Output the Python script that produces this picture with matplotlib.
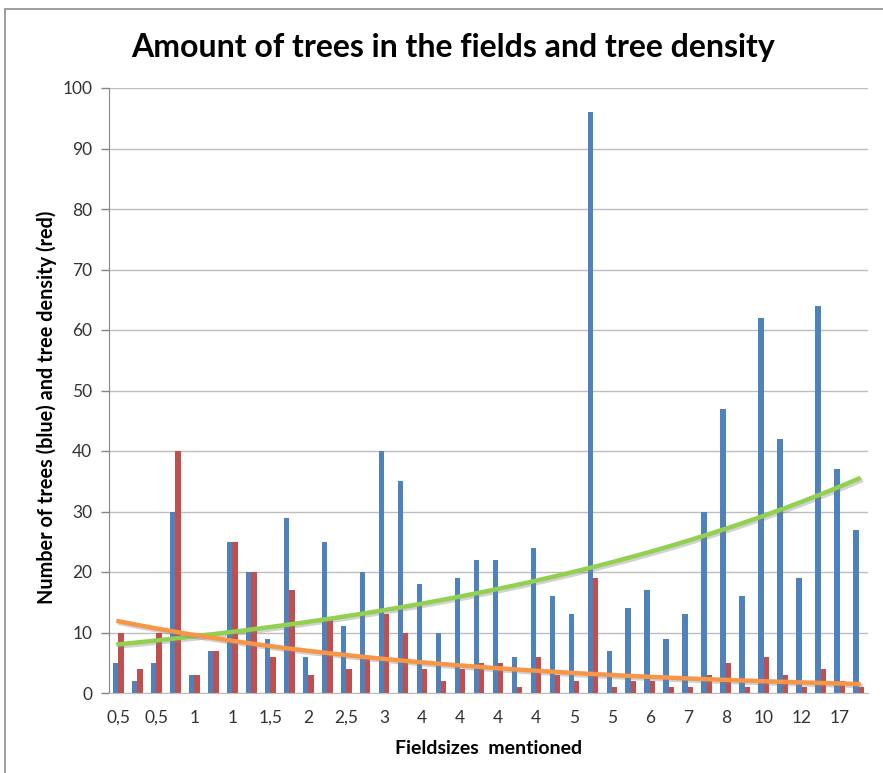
import numpy as np
import matplotlib.pyplot as plt
import matplotlib.patheffects as pe
from matplotlib.patches import Rectangle

plt.rcParams['font.family'] = ['Lato', 'DejaVu Sans']

# one category per field mentioned, label shown on every other one
field_labels = ['0,5', '0,5', '1', '1', '1,5', '2', '2,5', '3', '4', '4',
                '4', '4', '5', '5', '6', '7', '8', '10', '12', '17']
trees = [5, 2, 5, 30, 3, 7, 25, 20, 9, 29,
         6, 25, 11, 20, 40, 35, 18, 10, 19, 22,
         22, 6, 24, 16, 13, 96, 7, 14, 17, 9,
         13, 30, 47, 16, 62, 42, 19, 64, 37, 27]
density = [10, 4, 10, 40, 3, 7, 25, 20, 6, 17,
           3, 12, 4, 6, 13, 10, 4, 2, 4, 5,
           5, 1, 6, 3, 2, 19, 1, 2, 2, 1,
           1, 3, 5, 1, 6, 3, 1, 4, 2, 1]

x = np.arange(1, len(trees) + 1)


def exp_trend(values):
    # least squares on log values, like a spreadsheet exponential trendline
    b, ln_a = np.polyfit(x, np.log(values), 1)
    return np.exp(ln_a + b * x)


trend_trees = exp_trend(trees)
trend_density = exp_trend(density)

fig = plt.figure(figsize=(8.83, 7.73), dpi=100)
ax = fig.add_axes([109 / 883, 1 - 693 / 773, 759 / 883, 605 / 773])

w = 0.28
ax.bar(x - w / 2, trees, width=w, color='#4F81BD', zorder=2)
ax.bar(x + w / 2, density, width=w, color='#C0504D', zorder=2)

shadow = [pe.SimpleLineShadow(offset=(1.5, -1.5), shadow_color='gray', alpha=0.35), pe.Normal()]
ax.plot(x, trend_trees, color='#92D050', lw=3.2, zorder=3, path_effects=shadow)
ax.plot(x, trend_density, color='#F79646', lw=3.2, zorder=3, path_effects=shadow)

ax.set_xlim(0.5, len(trees) + 0.5)
ax.set_ylim(0, 100)
ax.set_yticks(range(0, 101, 10))
ax.set_xticks(x[::2])
ax.set_xticklabels(field_labels)
ax.tick_params(axis='x', length=0, pad=12, labelsize=12.5, colors='#333333')
ax.tick_params(axis='y', length=6, width=1, color='#868686', pad=6, labelsize=12.5, labelcolor='#333333')
ax.yaxis.grid(True, color='#BEBEBE', lw=1)
ax.set_axisbelow(True)
for s in ['top', 'right']:
    ax.spines[s].set_visible(False)
ax.spines['left'].set_color('#868686')
ax.spines['bottom'].set_color('#BEBEBE')

ax.set_ylabel('Number of trees (blue) and tree density (red)', fontsize=14.3, fontweight='bold',
              va='center')
ax.yaxis.set_label_coords(-0.082, 0.473)
ax.set_xlabel('Fieldsizes  mentioned', fontsize=14, fontweight='bold', labelpad=10)
fig.text(453 / 883, 1 - 47 / 773, 'Amount of trees in the fields and tree density',
         fontsize=23, fontweight='bold', ha='center', va='center')

# chart frame
fig.patches.append(Rectangle((5 / 883, -0.1), 1.2, 1 - 9 / 773 + 0.1, transform=fig.transFigure,
                             fill=False, edgecolor='#8C8C8C', lw=1.2))

fig.savefig('out.png', dpi=100)
